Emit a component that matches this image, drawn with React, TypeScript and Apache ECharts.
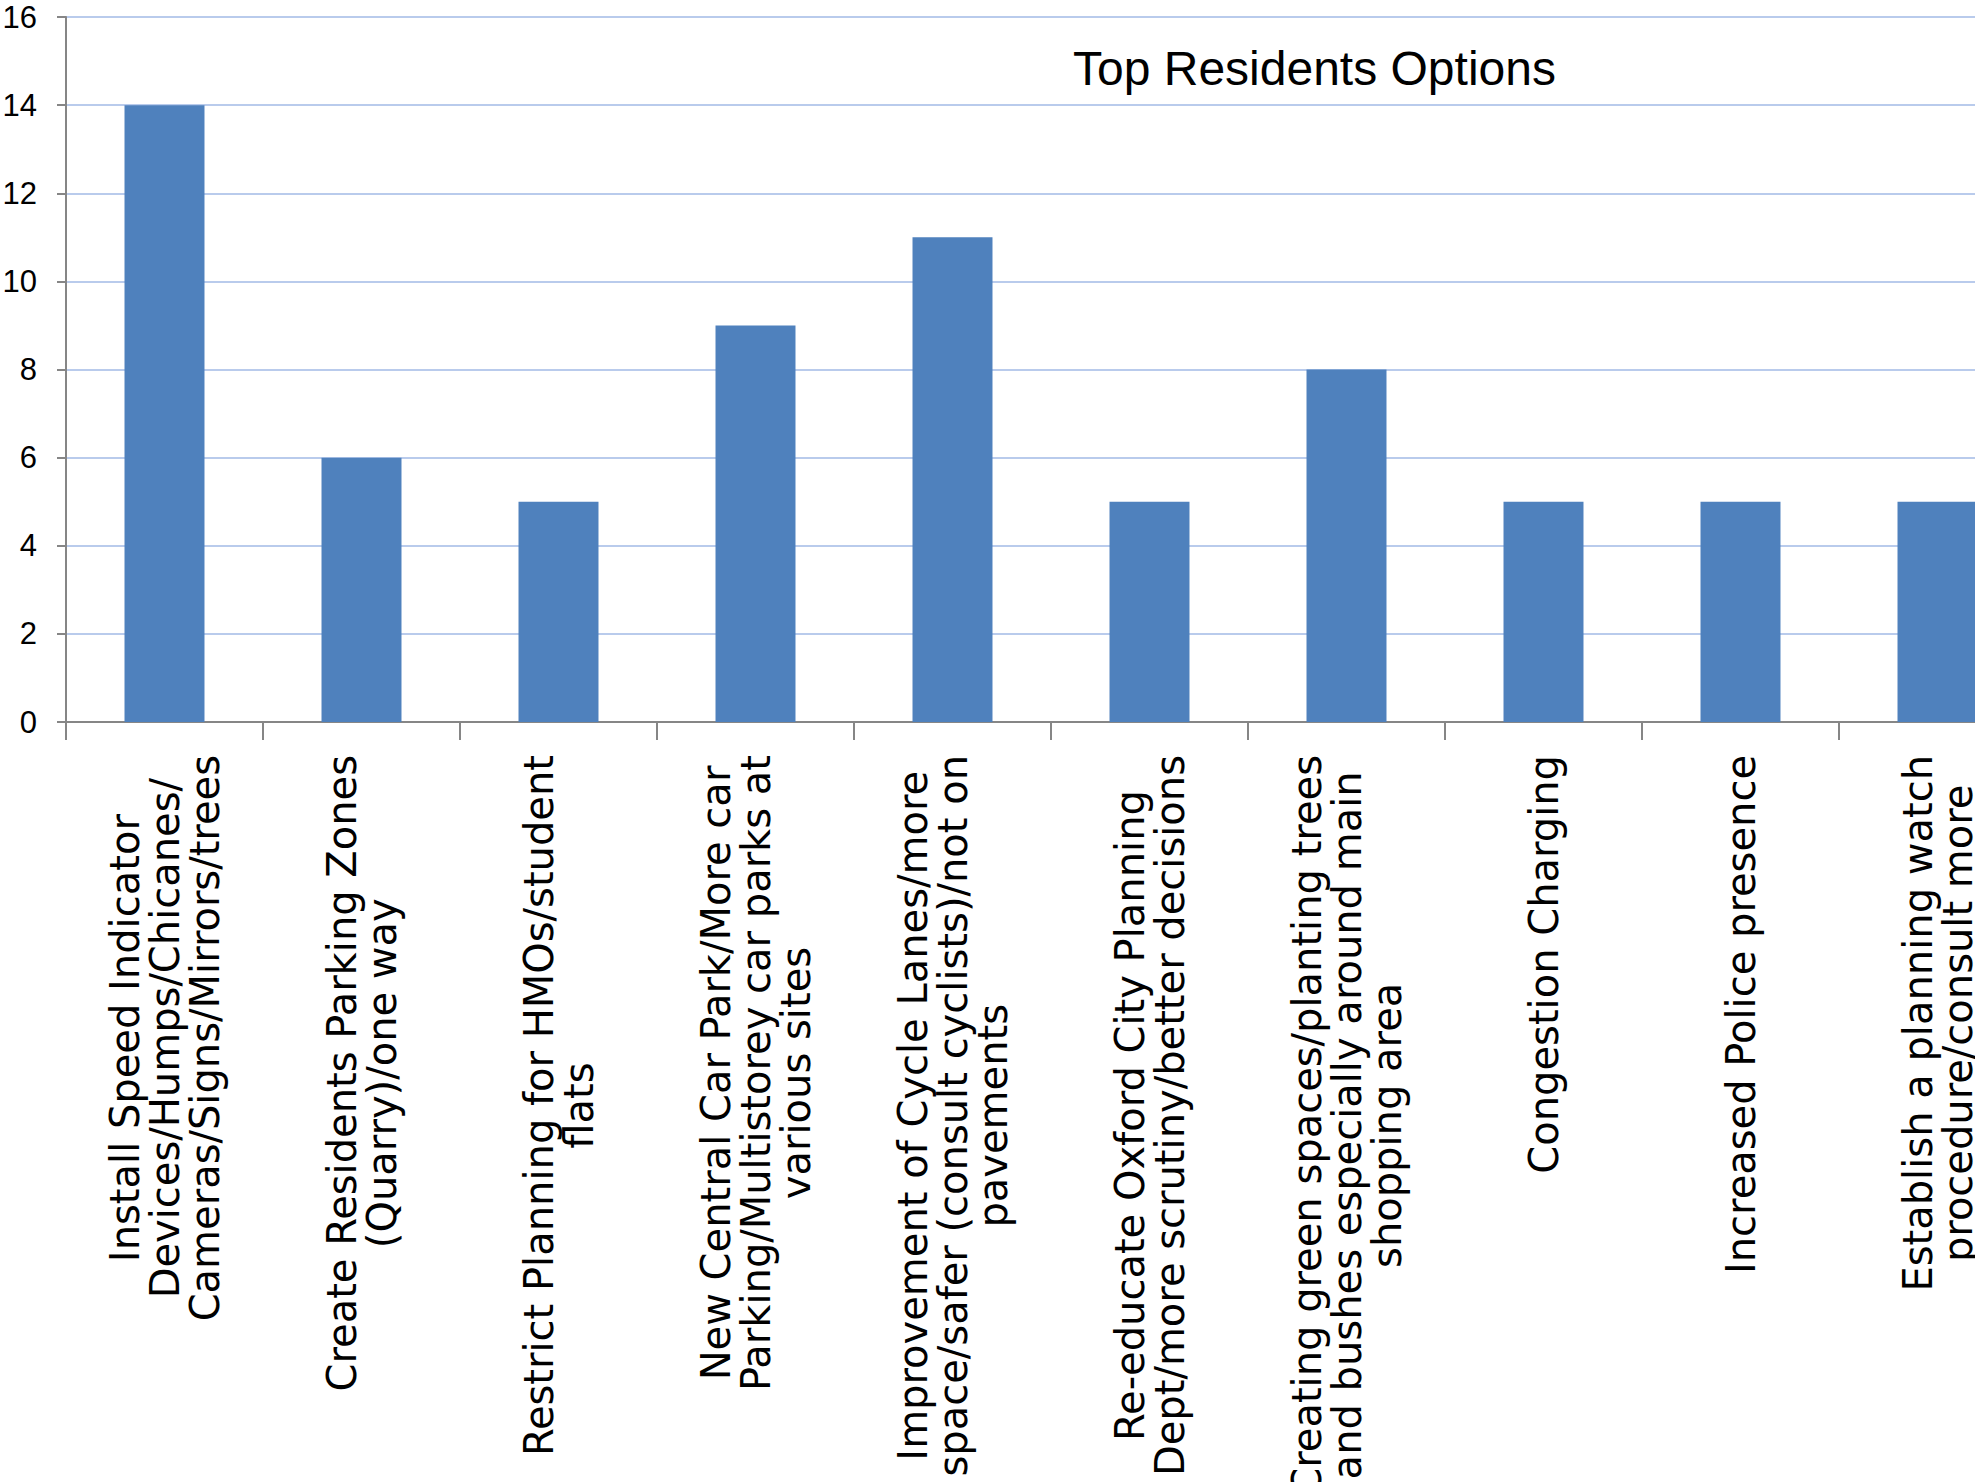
import React, { useEffect, useRef } from "react";
import * as echarts from "echarts";

const categories: string[] = [
  "Install Speed Indicator\nDevices/Humps/Chicanes/\nCameras/Signs/Mirrors/trees",
  "Create Residents Parking Zones\n(Quarry)/one way",
  "Restrict Planning for HMOs/student\nflats",
  "New Central Car Park/More car\nParking/Multistorey car parks at\nvarious sites",
  "Improvement of Cycle Lanes/more\nspace/safer (consult cyclists)/not on\npavements",
  "Re-educate Oxford City Planning\nDept/more scrutiny/better decisions",
  "Creating green spaces/planting trees\nand bushes especially around main\nshopping area",
  "Congestion Charging",
  "Increased Police presence",
  "Establish a planning watch\nprocedure/consult more",
];

const counts: number[] = [14, 6, 5, 9, 11, 5, 8, 5, 5, 5];

const titleText = "Top Residents Options";

const yMin = 0;
const yMax = 16;
const yStep = 2;

export default function App() {
  const ref = useRef<HTMLDivElement>(null);

  useEffect(() => {
    document.documentElement.style.overflow = "hidden";
    document.body.style.overflow = "hidden";
    if (!ref.current) return;
    const chart = echarts.init(ref.current, undefined, { renderer: "svg" });
    const axisGray = "#868686";
    chart.setOption({
      animation: false,
      backgroundColor: "#ffffff",
      title: {
        text: titleText,
        left: 1073,
        top: 44,
        padding: 0,
        textStyle: {
          fontFamily: "Liberation Sans, Arial, sans-serif",
          fontSize: 48,
          fontWeight: "normal",
          color: "#000000",
        },
      },
      grid: {
        left: 66,
        right: 4,
        top: 17,
        bottom: 760,
        containLabel: false,
        outerBoundsMode: "none",
      },
      xAxis: {
        type: "category",
        data: categories,
        boundaryGap: true,
        axisLine: { show: true, lineStyle: { color: axisGray, width: 2 } },
        axisTick: {
          show: true,
          length: 18,
          alignWithLabel: false,
          lineStyle: { color: axisGray, width: 2 },
        },
        axisLabel: {
          interval: 0,
          rotate: 90,
          margin: 33,
          color: "#000000",
          fontFamily: "DejaVu Sans, sans-serif",
          fontSize: 40,
          lineHeight: 40,
          formatter: (v: string) =>
            v
              .split("\n")
              .map((l) => `{c|${l}}`)
              .join("\n"),
          rich: {
            c: {
              align: "center",
              fontFamily: "DejaVu Sans, sans-serif",
              fontSize: 40,
              lineHeight: 40,
              color: "#000000",
            },
          },
        },
        splitLine: { show: false },
      },
      yAxis: {
        type: "value",
        min: yMin,
        max: yMax,
        interval: yStep,
        axisLine: { show: true, lineStyle: { color: axisGray, width: 2 } },
        axisTick: { show: true, length: 9, lineStyle: { color: axisGray, width: 2 } },
        axisLabel: {
          margin: 29,
          color: "#000000",
          fontFamily: "Liberation Sans Narrow, Liberation Sans, Arial, sans-serif",
          fontSize: 31,
        },
        splitLine: { show: true, lineStyle: { color: "#b9cbec", width: 2 } },
      },
      series: [
        {
          type: "bar",
          data: counts,
          barWidth: "40.6%",
          itemStyle: { color: "#4f81bd" },
        },
      ],
    });
    return () => chart.dispose();
  }, []);

  return (
    <div
      style={{
        position: "fixed",
        left: 0,
        top: 0,
        width: 1975,
        height: 1482,
        overflow: "hidden",
        background: "#ffffff",
      }}
    >
      <div ref={ref} style={{ position: "absolute", left: 0, top: 0, width: 2040, height: 1482 }} />
    </div>
  );
}
